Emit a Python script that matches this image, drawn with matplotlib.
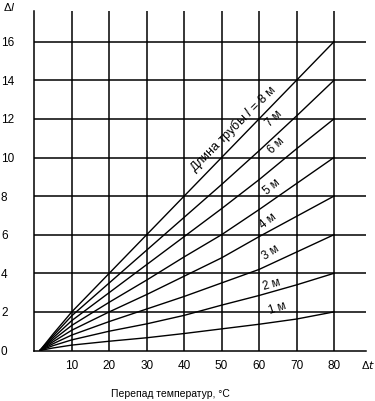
import matplotlib
matplotlib.use("Agg")
import matplotlib.pyplot as plt

plt.rcParams['font.family'] = ['Liberation Sans', 'DejaVu Sans']

# temperature difference points (°C)
t = [1.5, 5, 10, 20, 30, 40, 50, 60, 70, 80]
# elongation Δl (mm) per pipe length
dl_1m = [0, 0.13, 0.28, 0.48, 0.66, 0.88, 1.12, 1.36, 1.63, 2.0]
dl_2m = [0, 0.25, 0.55, 1.0, 1.38, 1.82, 2.35, 2.85, 3.4, 4.0]
dl_3m = [0, 0.35, 0.8, 1.5, 2.15, 2.8, 3.5, 4.2, 5.1, 6.0]
dl_4m = [0, 0.45, 1.05, 2.0, 2.9, 3.85, 4.8, 5.9, 6.95, 8.0]
dl_5m = [0, 0.55, 1.3, 2.5, 3.65, 4.85, 6.0, 7.3, 8.65, 10.0]
dl_6m = [0, 0.65, 1.55, 3.0, 4.45, 5.9, 7.35, 8.85, 10.45, 12.0]
dl_7m = [0, 0.75, 1.8, 3.5, 5.2, 6.9, 8.6, 10.35, 12.15, 14.0]
dl_8m = [0, 0.85, 2.0, 4.0, 6.0, 8.0, 10.0, 12.0, 14.0, 16.0]
series = [dl_1m, dl_2m, dl_3m, dl_4m, dl_5m, dl_6m, dl_7m, dl_8m]

labels = ["1 м", "2 м", "3 м", "4 м", "5 м", "6 м", "7 м", "Длина трубы $\\mathit{l}$ = 8 м"]
label_pos = [(64.8, 2.2), (63.4, 3.4), (63.2, 5.05), (62.3, 6.7), (63.4, 8.45),
             (64.5, 10.6), (64.0, 12.0), (53.0, 11.5)]
label_rot = [18, 16, 33, 38, 40, 44, 45, 45]
label_size = [8.3, 8.3, 8.3, 8.3, 8.3, 8.3, 8.3, 9]

xticks = [10, 20, 30, 40, 50, 60, 70, 80]
yticks = [0, 2, 4, 6, 8, 10, 12, 14, 16]
xlabel = "Перепад температур, °С"

W, H = 375, 401
fig = plt.figure(figsize=(W / 100, H / 100), dpi=100)
left, right, bottom, top = 34.3, 366, 350.5, 11
ax = fig.add_axes([left / W, 1 - bottom / H, (right - left) / W, (bottom - top) / H])
ax.set_xlim(0, (right - left) / 3.746)
ax.set_ylim(0, (bottom - top) / 19.3)

for xv in xticks:
    ax.axvline(xv, color='black', lw=1.1, zorder=1)
for yv in yticks[1:]:
    ax.axhline(yv, color='black', lw=1.1, zorder=1)

for s in series:
    ax.plot(t, s, color='black', lw=1.0, zorder=2)

for lab, (px, py), rot, fs in zip(labels, label_pos, label_rot, label_size):
    ax.text(px, py, lab, rotation=rot, rotation_mode='anchor', ha='center', va='center',
            fontsize=fs, color='black', zorder=3)

for sp in ['top', 'right']:
    ax.spines[sp].set_visible(False)
for sp in ['left', 'bottom']:
    ax.spines[sp].set_linewidth(1.1)

ax.set_xticks(xticks)
ax.set_xticklabels([str(v) for v in xticks], fontsize=8.5)
ax.set_yticks(yticks)
ax.set_yticklabels([str(v) for v in yticks], fontsize=8.5, ha='left')
ax.tick_params(axis='x', length=0, pad=6.5)
ax.tick_params(axis='y', length=0, pad=24)

fig.text(3 / W, 1 - 7 / H, "Δ$\\mathit{l}$", fontsize=8, ha='left', va='center')
fig.text(368 / W, 1 - 365 / H, "Δ$\\mathit{t}$", fontsize=8, ha='center', va='center')
fig.text(170 / W, 1 - 394 / H, xlabel, fontsize=7.5, ha='center', va='center')

fig.savefig("out.png", dpi=100)
